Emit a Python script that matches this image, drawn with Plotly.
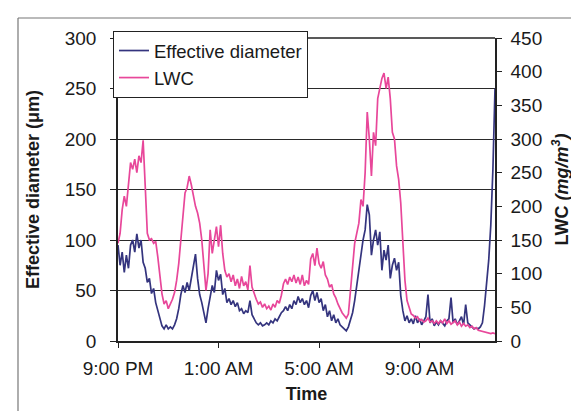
import plotly.graph_objects as go
import pandas as pd

# 5-minute samples from 9:00 PM to 12:00 PM next day
start_time = "2000-01-01 21:00"
n_points = 181
times = pd.date_range(start_time, periods=n_points, freq="5min")

effective_diameter = [
    95, 75, 88, 68, 85, 72, 95, 100, 88, 106, 92, 100, 78, 72, 58, 62, 47, 52, 38, 30,
    22, 15, 12, 16, 12, 14, 12, 16, 22, 32, 46, 55, 48, 58, 50, 62, 72, 86, 62, 46,
    38, 26, 18, 32, 45, 55, 48, 70, 60, 66, 46, 52, 38, 42, 36, 40, 34, 38, 30, 32,
    27, 30, 28, 40, 26, 22, 18, 16, 18, 15, 16, 18, 16, 20, 18, 22, 20, 24, 28, 30,
    34, 30, 36, 32, 40, 36, 44, 38, 42, 36, 40, 33, 45, 50, 40, 48, 38, 42, 30, 36,
    24, 30, 20, 26, 18, 22, 16, 14, 12, 10, 14, 20, 28, 40, 55, 70, 90, 100, 110, 135,
    125, 85, 100, 110, 95, 108, 70, 90, 80, 95, 62, 75, 82, 70, 78, 45, 30, 20, 25, 18,
    22, 17, 25, 18, 22, 16, 20, 24, 46, 18, 22, 15, 19, 16, 20, 18, 15, 20, 22, 43,
    18, 22, 16, 20, 24, 16, 36, 18, 16, 14, 12, 13, 12, 14, 18, 35, 55, 80, 115, 170,
    250,
]

lwc = [
    145, 160, 195, 215, 200, 230, 265, 255, 270, 250, 275, 265, 298, 230, 160, 150, 152, 145, 148, 125,
    95, 70, 55, 60, 48, 55, 62, 72, 90, 115, 150, 190, 220, 228, 245, 232, 215, 200, 190, 175,
    150, 110, 75, 100, 165, 130, 150, 170, 140, 172, 130, 105, 95, 100, 88, 98, 82, 92, 78, 96,
    82, 88, 76, 112, 80, 70, 62, 55, 58, 50, 55, 48, 52, 46, 55, 50, 60, 56, 68, 85,
    92, 84, 95, 88, 98, 86, 95, 84, 98, 82, 90, 84, 122, 130, 112, 138, 115, 108, 118, 98,
    92, 80, 84, 70, 64, 55, 48, 42, 38, 34, 40, 70, 110, 145, 160, 175, 210, 200, 250, 340,
    300, 245, 310, 290, 360, 375, 390, 398, 375, 392, 360, 310, 300, 260, 240, 205, 150, 90, 60, 48,
    40, 38, 34, 36, 30, 32, 28, 30, 34, 28, 30, 26, 30, 26, 30, 27, 33, 26, 30, 25,
    28, 30, 24, 28, 22, 26, 22, 24, 20, 22, 18, 20, 16, 15, 14, 13, 12, 12, 11, 12,
    11,
]

x_tick_values = ["2000-01-01 21:00", "2000-01-02 01:00", "2000-01-02 05:00", "2000-01-02 09:00"]
x_tick_labels = ["9:00 PM", "1:00 AM", "5:00 AM", "9:00 AM"]
x_range = ["2000-01-01 21:00", "2000-01-02 12:00"]

FONT = "Arial, Liberation Sans, sans-serif"

fig = go.Figure()
fig.add_trace(go.Scatter(
    x=times, y=effective_diameter, name="Effective diameter", mode="lines",
    line=dict(color="#34347e", width=1.7), yaxis="y",
))
fig.add_trace(go.Scatter(
    x=times, y=lwc, name="LWC", mode="lines",
    line=dict(color="#e8479a", width=1.7), yaxis="y2",
))

W, H = 579, 411
L, R, T, B = 110, 92, 30, 78
pw, ph = W - L - R, H - T - B


def px_x(p):
    return (p - L) / pw


def px_y(p):
    return (H - B - p) / ph


fig.update_layout(
    width=W, height=H,
    margin=dict(l=L, r=R, t=T, b=B),
    paper_bgcolor="white", plot_bgcolor="white",
    font=dict(family=FONT, size=19, color="#1a1a1a"),
    showlegend=True,
    legend=dict(
        x=px_x(105), y=px_y(23), xanchor="left", yanchor="top",
        bgcolor="white", bordercolor="#222", borderwidth=1,
        font=dict(size=18.5),
    ),
    xaxis=dict(
        type="date", range=x_range,
        tickvals=x_tick_values, ticktext=x_tick_labels,
        ticks="outside", ticklen=5, tickcolor="#222",
        ticklabelstandoff=4,
        showline=True, linecolor="#222", linewidth=1.5,
        showgrid=False, zeroline=False,
        title=dict(text="<b>Time</b>", font=dict(size=18), standoff=10),
        tickfont=dict(size=19),
    ),
    yaxis=dict(
        range=[0, 300], tickvals=[0, 50, 100, 150, 200, 250, 300],
        ticks="outside", ticklen=6, tickcolor="#222",
        ticklabelstandoff=10,
        showline=True, linecolor="#222", linewidth=1.5,
        showgrid=True, gridcolor="#2a2a2a", gridwidth=1.3,
        zeroline=False,
        title=dict(text="<b>Effective diameter (μm)</b>", font=dict(size=18), standoff=20),
        tickfont=dict(size=19),
    ),
    yaxis2=dict(
        range=[0, 450], tickvals=[0, 50, 100, 150, 200, 250, 300, 350, 400, 450],
        overlaying="y", side="right",
        ticks="outside", ticklen=5, tickcolor="#222",
        ticklabelstandoff=5,
        showline=True, linecolor="#222", linewidth=1.5,
        showgrid=False, zeroline=False,
        title=dict(text="<b>LWC <i>(mg/m<sup>3</sup>)</i></b>", font=dict(size=18), standoff=14),
        tickfont=dict(size=19),
    ),
    shapes=[
        # plot top border
        dict(type="line", xref="paper", yref="paper", x0=0, x1=1, y0=1, y1=1,
             line=dict(color="#222", width=1.5)),
        # outer frame (top and left edges visible)
        dict(type="line", xref="paper", yref="paper",
             x0=px_x(10), x1=px_x(579), y0=px_y(10), y1=px_y(10),
             line=dict(color="#777", width=1.2), layer="below"),
        dict(type="line", xref="paper", yref="paper",
             x0=px_x(10), x1=px_x(10), y0=px_y(10), y1=px_y(411),
             line=dict(color="#777", width=1.2), layer="below"),
    ],
)

fig.write_html("out.html")
